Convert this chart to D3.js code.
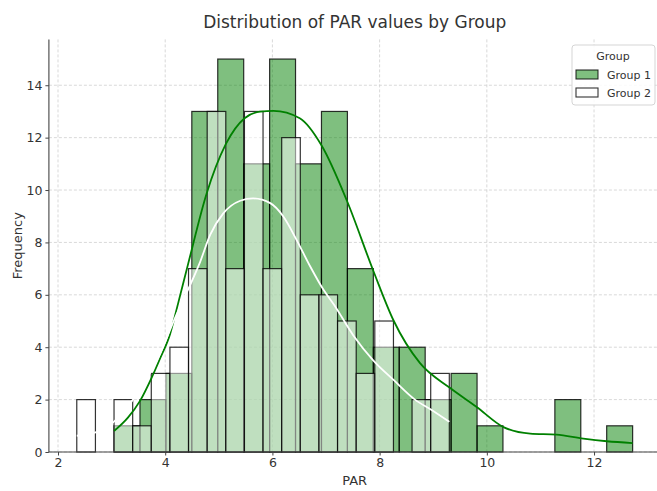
<!DOCTYPE html>
<html>
<head>
<meta charset="utf-8">
<script src="https://cdn.jsdelivr.net/npm/d3@7"></script>
<style>
  body { margin: 0; background: #fff; }
  svg { display: block; font-family: "DejaVu Sans", sans-serif; }
</style>
</head>
<body>
<div class="graph"></div>
<script>
const width = 657;
const height = 491;

// Group 1 histogram: bin edges and counts
const g1Edges = [3.045, 3.529, 4.013, 4.496, 4.980, 5.464, 5.948, 6.431, 6.915, 7.399, 7.883,
  8.366, 8.850, 9.334, 9.818, 10.301, 10.785, 11.269, 11.753, 12.236, 12.720];
const g1Counts = [1, 2, 3, 13, 15, 11, 15, 11, 13, 7, 4, 4, 2, 3, 1, 0, 0, 2, 0, 1];

// Group 2 histogram
const g2Edges = [2.350, 2.698, 3.045, 3.393, 3.740, 4.088, 4.435, 4.783, 5.130, 5.478, 5.825,
  6.173, 6.520, 6.868, 7.215, 7.563, 7.910, 8.258, 8.605, 8.953, 9.300];
const g2Counts = [2, 0, 2, 1, 3, 4, 7, 13, 7, 13, 7, 12, 6, 6, 5, 3, 5, 0, 2, 3];

// kde curves (x, count-scaled density)
const g1KdeX = [3.045, 3.3, 3.53, 3.75, 3.9, 4.09, 4.25, 4.43, 4.77, 5.13, 5.48, 5.77, 6.02, 6.51,
  6.92, 7.39, 7.88, 8.26, 8.75, 9.31, 9.81, 10.31, 10.81, 11.3, 11.8, 12.24, 12.72];
const g1KdeY = [0.8, 1.3, 1.95, 2.85, 3.55, 4.5, 5.75, 7.2, 9.85, 11.75, 12.74, 12.99, 13.02, 12.74,
  11.69, 9.59, 6.93, 5.02, 3.4, 2.45, 1.72, 0.95, 0.7, 0.66, 0.51, 0.41, 0.34];

const g2KdeX = [2.35, 2.7, 3.04, 3.5, 3.87, 4.2, 4.46, 4.65, 4.84, 5.08, 5.4, 5.64, 5.96, 6.2,
  6.45, 6.7, 6.95, 7.14, 7.51, 7.88, 8.26, 8.66, 8.97, 9.3];
const g2KdeY = [0.62, 0.75, 1.15, 2.3, 3.6, 5.2, 6.35, 7.25, 8.3, 9.1, 9.59, 9.68, 9.5, 9.0,
  8.1, 7.1, 6.2, 5.65, 4.45, 3.5, 2.75, 2.0, 1.6, 1.15];

const groups = ["Group 1", "Group 2"];
const xTicks = [2, 4, 6, 8, 10, 12];
const yTicks = [0, 2, 4, 6, 8, 10, 12, 14];

const svg = d3.select(".graph").append("svg")
  .attr("width", width)
  .attr("height", height);

const x = d3.scaleLinear().domain([1.83, 13.24]).range([48.9, 660.5]);
const y = d3.scaleLinear().domain([0, 15.75]).range([452, 39.4]);

/* grid */
svg.append("g")
  .selectAll("line")
  .data(xTicks)
  .enter().append("line")
  .attr("x1", d => x(d)).attr("x2", d => x(d))
  .attr("y1", y.range()[1]).attr("y2", y.range()[0])
  .attr("stroke", "#cfcfcf").attr("stroke-width", 0.8)
  .attr("stroke-dasharray", "3,2");

svg.append("g")
  .selectAll("line")
  .data(yTicks)
  .enter().append("line")
  .attr("x1", x.range()[0]).attr("x2", x.range()[1])
  .attr("y1", d => y(d)).attr("y2", d => y(d))
  .attr("stroke", "#cfcfcf").attr("stroke-width", 0.8)
  .attr("stroke-dasharray", "3,2");

/* histogram bars */
function bars(edges, counts, fill) {
  const bins = counts.map((c, i) => ({ x0: edges[i], x1: edges[i + 1], c: c })).filter(b => b.c > 0);
  svg.append("g")
    .selectAll("rect")
    .data(bins)
    .enter().append("rect")
    .attr("x", d => x(d.x0))
    .attr("width", d => x(d.x1) - x(d.x0))
    .attr("y", d => y(d.c))
    .attr("height", d => y(0) - y(d.c))
    .attr("fill", fill)
    .attr("stroke", "rgba(0,0,0,0.8)")
    .attr("stroke-width", 1.2);
}
bars(g1Edges, g1Counts, "rgba(0,128,0,0.5)");
bars(g2Edges, g2Counts, "rgba(255,255,255,0.5)");

/* kde lines */
const line = d3.line().x(d => x(d[0])).y(d => y(d[1])).curve(d3.curveMonotoneX);
svg.append("path")
  .datum(d3.zip(g1KdeX, g1KdeY))
  .attr("d", line)
  .attr("fill", "none").attr("stroke", "green").attr("stroke-width", 1.8);
svg.append("path")
  .datum(d3.zip(g2KdeX, g2KdeY))
  .attr("d", line)
  .attr("fill", "none").attr("stroke", "white").attr("stroke-width", 1.8);

/* axes */
const xAxis = svg.append("g")
  .attr("transform", "translate(0," + y(0) + ")")
  .call(d3.axisBottom(x).tickValues(xTicks).tickSize(3.5).tickPadding(3));
const yAxis = svg.append("g")
  .attr("transform", "translate(" + x.range()[0] + ",0)")
  .call(d3.axisLeft(y).tickValues(yTicks).tickSize(3.5).tickPadding(3));

[xAxis, yAxis].forEach(a => {
  a.select(".domain").attr("stroke", "#444").attr("stroke-width", 1.1);
  a.selectAll(".tick line").attr("stroke", "#444");
  a.selectAll(".tick text")
    .attr("fill", "#333")
    .style("font-size", "12.5px")
    .style("font-family", "DejaVu Sans, sans-serif");
});
xAxis.select(".domain").attr("d", "M" + x.range()[0] + ",0H" + x.range()[1]);
yAxis.select(".domain").attr("d", "M0," + y.range()[0] + "V" + y.range()[1]);

/* titles */
svg.append("text")
  .attr("x", (x.range()[0] + x.range()[1]) / 2)
  .attr("y", 28)
  .attr("text-anchor", "middle")
  .attr("fill", "#333")
  .style("font-size", "17px")
  .text("Distribution of PAR values by Group");

svg.append("text")
  .attr("x", (x.range()[0] + x.range()[1]) / 2)
  .attr("y", 485)
  .attr("text-anchor", "middle")
  .attr("fill", "#333")
  .style("font-size", "13px")
  .text("PAR");

svg.append("text")
  .attr("transform", "translate(22," + (y.range()[0] + y.range()[1]) / 2 + ") rotate(-90)")
  .attr("text-anchor", "middle")
  .attr("fill", "#333")
  .style("font-size", "13px")
  .text("Frequency");

/* legend */
const legend = svg.append("g").attr("transform", "translate(572,45)");
legend.append("rect")
  .attr("width", 83).attr("height", 60).attr("rx", 3)
  .attr("fill", "rgba(255,255,255,0.85)")
  .attr("stroke", "#d5d5d5");
legend.append("text")
  .attr("x", 41).attr("y", 15)
  .attr("text-anchor", "middle")
  .attr("fill", "#333")
  .style("font-size", "11px")
  .text("Group");

const item = legend.selectAll(".legend-item")
  .data(groups)
  .enter().append("g")
  .attr("class", "legend-item")
  .attr("transform", (d, i) => "translate(4," + (25 + i * 18) + ")");
item.append("rect")
  .attr("width", 22).attr("height", 9)
  .attr("fill", (d, i) => i === 0 ? "rgba(0,128,0,0.5)" : "rgba(255,255,255,0.5)")
  .attr("stroke", "rgba(0,0,0,0.8)").attr("stroke-width", 1.1);
item.append("text")
  .attr("x", 31).attr("y", 9)
  .attr("fill", "#333")
  .style("font-size", "11px")
  .text(d => d);
</script>
</body>
</html>
